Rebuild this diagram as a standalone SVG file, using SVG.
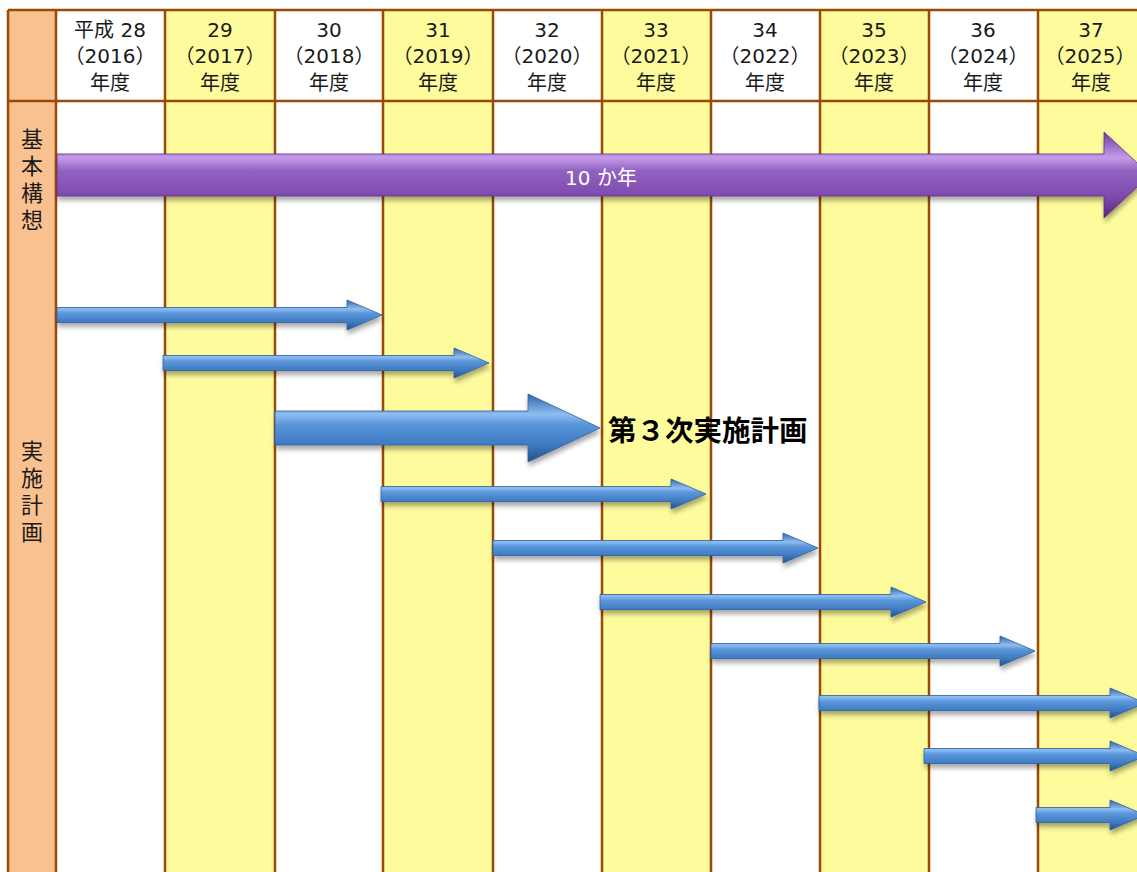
<svg xmlns="http://www.w3.org/2000/svg" width="1137" height="872" viewBox="0 0 1137 872">
<defs>
<style>
.hdr{font-family:"DejaVu Sans","Noto Sans CJK JP",sans-serif;font-size:20px;fill:#1a1a1a;text-anchor:middle}
.side{font-family:"Noto Sans CJK JP","Noto Sans",sans-serif;font-size:22px;fill:#1a1a1a;writing-mode:vertical-rl;letter-spacing:5px}
.grid{stroke:#9A4A06;stroke-width:2.5;fill:none}
.blue{fill:url(#gBlue);stroke:#2F5F9E;stroke-width:0.8;filter:url(#sh)}
.purple{fill:url(#gPurple);stroke:#5B2F86;stroke-width:0.8;filter:url(#sh)}
</style>
<linearGradient id="gBlue" x1="0" y1="0" x2="0" y2="1">
<stop offset="0" stop-color="#2F65AA"/>
<stop offset="0.3" stop-color="#8EBDF0"/>
<stop offset="0.45" stop-color="#5A96DA"/>
<stop offset="0.75" stop-color="#3E7AC2"/>
<stop offset="1" stop-color="#24508A"/>
</linearGradient>
<linearGradient id="gPurple" x1="0" y1="0" x2="0" y2="1">
<stop offset="0" stop-color="#6A3C98"/>
<stop offset="0.3" stop-color="#C49BEA"/>
<stop offset="0.45" stop-color="#9162C0"/>
<stop offset="0.75" stop-color="#7E4AAE"/>
<stop offset="1" stop-color="#54287E"/>
</linearGradient>
<filter id="sh" x="-5%" y="-30%" width="110%" height="180%">
<feGaussianBlur in="SourceAlpha" stdDeviation="2.5"/>
<feOffset dx="1" dy="4" result="b"/>
<feComponentTransfer><feFuncA type="linear" slope="0.35"/></feComponentTransfer>
<feMerge><feMergeNode/><feMergeNode in="SourceGraphic"/></feMerge>
</filter>
</defs>
<rect width="1137" height="872" fill="#ffffff"/>
<g id="table">
<rect x="8" y="10" width="48" height="870" fill="#F9C18F"/>
<rect x="165" y="10" width="110" height="870" fill="#FDFB9C"/>
<rect x="383" y="10" width="110" height="870" fill="#FDFB9C"/>
<rect x="602" y="10" width="109" height="870" fill="#FDFB9C"/>
<rect x="820" y="10" width="109" height="870" fill="#FDFB9C"/>
<rect x="1038" y="10" width="110" height="870" fill="#FDFB9C"/>
<path class="grid" d="M8 10H1140M8 101H1140M8 10V880M56 10V880M165 10V880M275 10V880M383 10V880M493 10V880M602 10V880M711 10V880M820 10V880M929 10V880M1038 10V880"/>
</g>
<g id="header">
<text class="hdr" x="110" y="37">平成 28</text><text class="hdr" x="110" y="63">（2016）</text><text class="hdr" x="110" y="90">年度</text>
<text class="hdr" x="220" y="37">29</text><text class="hdr" x="220" y="63">（2017）</text><text class="hdr" x="220" y="90">年度</text>
<text class="hdr" x="329" y="37">30</text><text class="hdr" x="329" y="63">（2018）</text><text class="hdr" x="329" y="90">年度</text>
<text class="hdr" x="438" y="37">31</text><text class="hdr" x="438" y="63">（2019）</text><text class="hdr" x="438" y="90">年度</text>
<text class="hdr" x="547" y="37">32</text><text class="hdr" x="547" y="63">（2020）</text><text class="hdr" x="547" y="90">年度</text>
<text class="hdr" x="656" y="37">33</text><text class="hdr" x="656" y="63">（2021）</text><text class="hdr" x="656" y="90">年度</text>
<text class="hdr" x="765" y="37">34</text><text class="hdr" x="765" y="63">（2022）</text><text class="hdr" x="765" y="90">年度</text>
<text class="hdr" x="874" y="37">35</text><text class="hdr" x="874" y="63">（2023）</text><text class="hdr" x="874" y="90">年度</text>
<text class="hdr" x="983" y="37">36</text><text class="hdr" x="983" y="63">（2024）</text><text class="hdr" x="983" y="90">年度</text>
<text class="hdr" x="1091" y="37">37</text><text class="hdr" x="1090" y="63">（2025）</text><text class="hdr" x="1091" y="90">年度</text>
</g>
<g id="label-kihon">
<text class="side" x="32" y="128">基本構想</text>
</g>
<g id="label-jisshi">
<text class="side" x="32" y="440">実施計画</text>
</g>
<g id="connectors">
<g id="arrow-10years">
<polygon class="purple" points="57,154 1104,154 1104,132 1150,175 1104,218 1104,196 57,196"/>
<text x="601" y="185" font-family="'DejaVu Sans','Noto Sans CJK JP',sans-serif" font-size="20" fill="#ffffff" text-anchor="middle">10 か年</text>
</g>
<polygon id="plan1" class="blue" points="57,307.5 347,307.5 347,300 382,315 347,330 347,322.5 57,322.5"/>
<polygon id="plan2" class="blue" points="163,355.5 454,355.5 454,348 489,363 454,378 454,370.5 163,370.5"/>
<g id="plan3">
<polygon class="blue" points="275,411 528,411 528,394 600,428 528,462 528,445 275,445"/>
<text x="608" y="441" font-family="'Noto Sans CJK JP','Noto Sans',sans-serif" font-size="28.5" font-weight="600" fill="#000000">第３次実施計画</text>
</g>
<polygon id="plan4" class="blue" points="381,486.5 671,486.5 671,479 706,494 671,509 671,501.5 381,501.5"/>
<polygon id="plan5" class="blue" points="493,540.5 783,540.5 783,533 818,548 783,563 783,555.5 493,555.5"/>
<polygon id="plan6" class="blue" points="600,594.5 891,594.5 891,587 926,602 891,617 891,609.5 600,609.5"/>
<polygon id="plan7" class="blue" points="711,643.5 1000,643.5 1000,636 1035,651 1000,666 1000,658.5 711,658.5"/>
<polygon id="plan8" class="blue" points="819,695.5 1110,695.5 1110,688 1145,703 1110,718 1110,710.5 819,710.5"/>
<polygon id="plan9" class="blue" points="924,748.5 1110,748.5 1110,741 1145,756 1110,771 1110,763.5 924,763.5"/>
<polygon id="plan10" class="blue" points="1036,807.5 1110,807.5 1110,800 1145,815 1110,830 1110,822.5 1036,822.5"/>
</g>
</svg>
